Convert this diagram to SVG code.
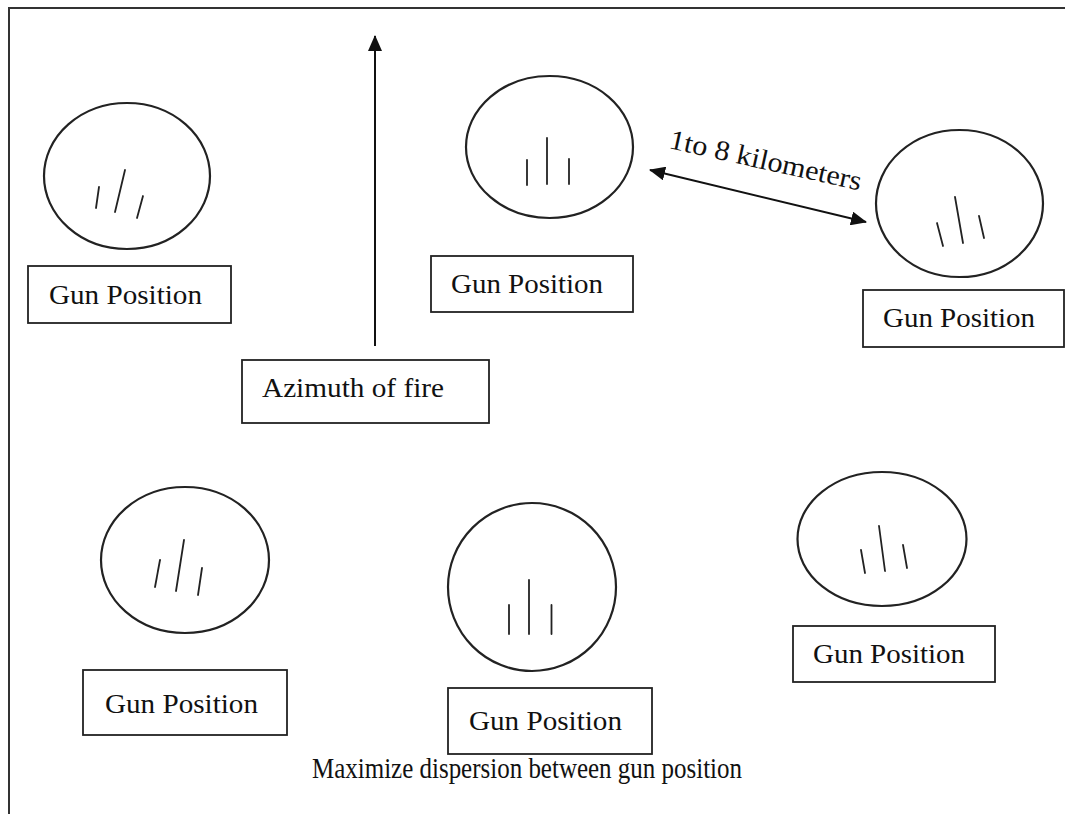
<svg xmlns="http://www.w3.org/2000/svg" width="1065" height="814" viewBox="0 0 1065 814">
<defs>
<marker id="ah" viewBox="0 0 16 14" refX="15" refY="7" markerWidth="16" markerHeight="14" markerUnits="userSpaceOnUse" orient="auto-start-reverse">
<path d="M0,0 L16,7 L0,14 Z" fill="#111"/>
</marker>
</defs>
<style>
.pos{fill:none;stroke:#222;stroke-width:2.2}
.tick{stroke:#222;stroke-width:1.8;stroke-linecap:round}
.box{fill:#fff;stroke:#222;stroke-width:1.8}
.lbl{font-family:"Liberation Serif","Times New Roman",serif;font-size:28px;fill:#111}
.conn{stroke:#111;stroke-width:2;fill:none}
</style>
<rect width="1065" height="814" fill="#fff"/>
<path d="M9,830 L9,8 L1080,8" fill="none" stroke="#333" stroke-width="2"/>

<g id="gun1">
<ellipse class="pos" cx="127" cy="176" rx="83" ry="73"/>
<line class="tick" x1="99" y1="187" x2="96" y2="208"/>
<line class="tick" x1="125" y1="170" x2="115" y2="212"/>
<line class="tick" x1="143" y1="196" x2="137" y2="218"/>
<rect class="box" x="28" y="266" width="203" height="57"/>
<text class="lbl" x="49" y="304" textLength="153" lengthAdjust="spacingAndGlyphs">Gun Position</text>
</g>

<g id="gun2">
<ellipse class="pos" cx="549.5" cy="147" rx="83.5" ry="71"/>
<line class="tick" x1="527" y1="160" x2="527" y2="185"/>
<line class="tick" x1="547" y1="138" x2="547" y2="184"/>
<line class="tick" x1="569" y1="159" x2="569" y2="184"/>
<rect class="box" x="431" y="256" width="202" height="56"/>
<text class="lbl" x="451" y="293" textLength="152" lengthAdjust="spacingAndGlyphs">Gun Position</text>
</g>

<g id="gun3">
<ellipse class="pos" cx="959.5" cy="203.5" rx="83.5" ry="73.5"/>
<line class="tick" x1="937" y1="223" x2="943" y2="246"/>
<line class="tick" x1="955" y1="197" x2="963" y2="243"/>
<line class="tick" x1="979" y1="216" x2="984" y2="238"/>
<rect class="box" x="863" y="290" width="201" height="57"/>
<text class="lbl" x="883" y="327" textLength="152" lengthAdjust="spacingAndGlyphs">Gun Position</text>
</g>

<g id="azimuth">
<rect class="box" x="242" y="360" width="247" height="63"/>
<text class="lbl" x="262" y="397" textLength="182" lengthAdjust="spacingAndGlyphs">Azimuth of fire</text>
</g>

<g id="gun4">
<ellipse class="pos" cx="185" cy="560" rx="84" ry="73"/>
<line class="tick" x1="160" y1="560" x2="155" y2="587"/>
<line class="tick" x1="184" y1="540" x2="176" y2="591"/>
<line class="tick" x1="202" y1="568" x2="198" y2="595"/>
<rect class="box" x="83" y="670" width="204" height="65"/>
<text class="lbl" x="105" y="713" textLength="153" lengthAdjust="spacingAndGlyphs">Gun Position</text>
</g>

<g id="gun5">
<ellipse class="pos" cx="532" cy="587" rx="84" ry="84"/>
<line class="tick" x1="509" y1="605" x2="509" y2="634"/>
<line class="tick" x1="529" y1="580" x2="529" y2="634"/>
<line class="tick" x1="551.5" y1="605" x2="551.5" y2="634"/>
<rect class="box" x="448" y="688" width="204" height="66"/>
<text class="lbl" x="469" y="730" textLength="153" lengthAdjust="spacingAndGlyphs">Gun Position</text>
</g>

<g id="gun6">
<ellipse class="pos" cx="882" cy="539" rx="84.5" ry="67"/>
<line class="tick" x1="861" y1="550" x2="865" y2="573"/>
<line class="tick" x1="879" y1="526" x2="885" y2="571"/>
<line class="tick" x1="903" y1="545" x2="907" y2="568"/>
<rect class="box" x="793" y="626" width="202" height="56"/>
<text class="lbl" x="813" y="663" textLength="152" lengthAdjust="spacingAndGlyphs">Gun Position</text>
</g>

<g id="connectors">
<line class="conn" x1="375" y1="346" x2="375" y2="36" marker-end="url(#ah)"/>
<line class="conn" x1="650" y1="170" x2="866" y2="222" marker-start="url(#ah)" marker-end="url(#ah)"/>
</g>

<text class="lbl" transform="translate(668,148) rotate(12.5)" textLength="196" lengthAdjust="spacingAndGlyphs">1to 8 kilometers</text>
<text class="lbl" x="312" y="778" style="font-size:29px" textLength="430" lengthAdjust="spacingAndGlyphs">Maximize dispersion between gun position</text>
</svg>
